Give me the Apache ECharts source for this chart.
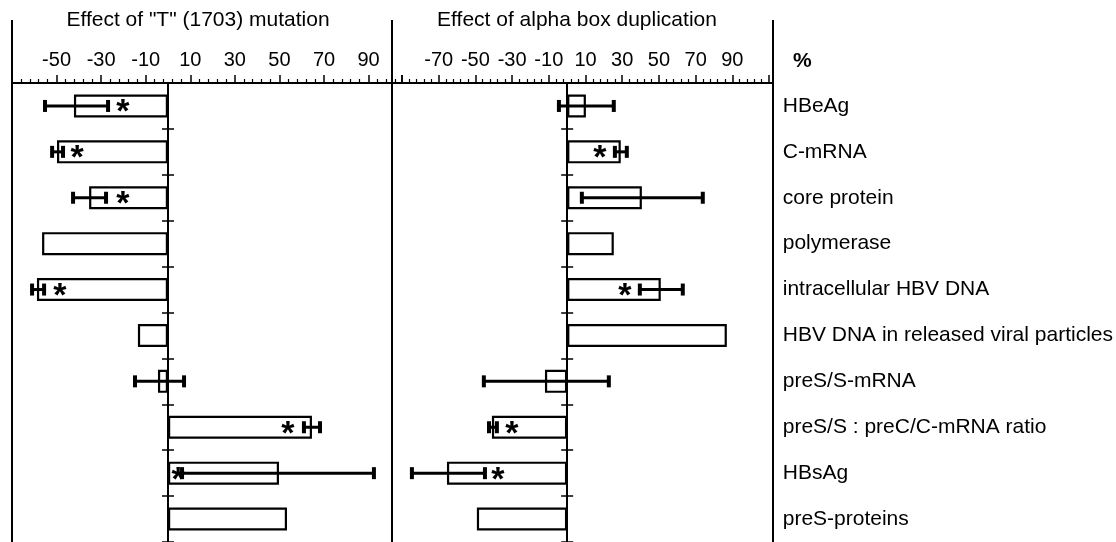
<!DOCTYPE html>
<html>
<head>
<meta charset="utf-8">
<script src="https://cdn.jsdelivr.net/npm/echarts@6/dist/echarts.min.js"></script>
<style>
html, body { margin: 0; padding: 0; background: #fff; }
#chart { width: 1116px; height: 542px; }
</style>
</head>
<body>
<div id="chart"></div>
<script>
const categories = [
  'HBeAg',
  'C-mRNA',
  'core protein',
  'polymerase',
  'intracellular HBV DNA',
  'HBV DNA in released viral particles',
  'preS/S-mRNA',
  'preS/S : preC/C-mRNA ratio',
  'HBsAg',
  'preS-proteins'
]

// Effect of "T" (1703) mutation, %
const mutationValues = [-42.2, -49.8, -35.4, -56.5, -58.8, -13.5, -4.5, 64.6, 49.8, 53.4]
const mutationErrLow = [-55.2, -52, -42.6, null, -61, null, -14.8, 61, 6.3, null]
const mutationErrHigh = [-26.9, -47.1, -27.8, null, -55.6, null, 7.2, 68.2, 92.4, null]
const mutationStars = [-20.2, -40.8, -20.2, null, -48.5, null, null, 53.8, 4.5, null]

// Effect of alpha box duplication, %
const duplicationValues = [10.2, 29.2, 40.7, 25.4, 51, 87, -12.1, -41, -65.5, -49.2]
const duplicationErrLow = [-4.5, 26, 8, null, 39.6, null, -45.4, -42.6, -84.6, null]
const duplicationErrHigh = [25.4, 32.5, 73.9, null, 63, null, 22.7, -38.3, -44.8, null]
const duplicationStars = [null, 17.8, null, null, 31.4, null, null, -30.1, -37.7, null]

const leftTickLabels = [-50, -30, -10, 10, 30, 50, 70, 90]
const rightTickLabels = [-70, -50, -30, -10, 10, 30, 50, 70, 90]

const FONT = '"Liberation Sans", Arial, Helvetica, sans-serif'

function errData(lo, hi) {
  const out = []
  lo.forEach((v, i) => {
    if (v !== null) out.push([i, v, hi[i]])
  })
  return out
}

function starData(stars) {
  const out = []
  stars.forEach((v, i) => {
    if (v !== null) out.push([i, v])
  })
  return out
}

function renderError(params, api) {
  const cat = api.value(0)
  const lo = api.coord([api.value(1), cat])
  const hi = api.coord([api.value(2), cat])
  const h = 6
  const bar = { stroke: '#000', lineWidth: 3 }
  const cap = { stroke: '#000', lineWidth: 4 }
  return {
    type: 'group',
    children: [
      { type: 'line', shape: { x1: lo[0], y1: lo[1], x2: hi[0], y2: hi[1] }, style: bar },
      { type: 'line', shape: { x1: lo[0], y1: lo[1] - h, x2: lo[0], y2: lo[1] + h }, style: cap },
      { type: 'line', shape: { x1: hi[0], y1: hi[1] - h, x2: hi[0], y2: hi[1] + h }, style: cap }
    ]
  }
}

function renderStar(params, api) {
  const p = api.coord([api.value(1), api.value(0)])
  return {
    type: 'text',
    x: p[0],
    y: p[1] + 7,
    style: {
      text: '*',
      fill: '#000',
      font: 'bold 34px ' + FONT,
      align: 'center',
      verticalAlign: 'middle'
    }
  }
}

function valueAxis(gridIndex, min, max, labels) {
  return {
    type: 'value',
    gridIndex: gridIndex,
    position: 'top',
    min: min,
    max: max,
    interval: 20,
    splitLine: { show: false },
    axisLine: { show: true, onZero: false, lineStyle: { color: '#000', width: 2 } },
    axisTick: { show: true, length: 8, lineStyle: { color: '#000', width: 1.5 } },
    minorTick: { show: true, splitNumber: 5, length: 4, lineStyle: { color: '#000', width: 1.2 } },
    axisLabel: {
      color: '#000',
      fontSize: 20,
      fontFamily: FONT,
      margin: 13,
      formatter: v => (labels.includes(v) ? String(v) : '')
    }
  }
}

function zeroAxis(gridIndex, xIndex, side) {
  return {
    type: 'category',
    gridIndex: gridIndex,
    data: categories,
    inverse: true,
    position: side,
    axisLine: { show: true, onZero: true, onZeroAxisIndex: xIndex, lineStyle: { color: '#000', width: 2 } },
    axisTick: { show: true, length: 6, lineStyle: { color: '#000', width: 1.5 } },
    axisLabel: { show: false },
    splitLine: { show: false }
  }
}

const chart = echarts.init(document.getElementById('chart'))
chart.setOption({
  animation: false,
  backgroundColor: '#fff',
  grid: [
    { left: 12, top: 83, width: 390, height: 462 },
    { left: 402, top: 83, width: 371, height: 462 }
  ],
  xAxis: [
    valueAxis(0, -70, 105, leftTickLabels),
    valueAxis(1, -90, 112, rightTickLabels)
  ],
  yAxis: [
    zeroAxis(0, 0, 'left'),
    zeroAxis(0, 0, 'right'),
    zeroAxis(1, 1, 'left'),
    zeroAxis(1, 1, 'right'),
    {
      type: 'category',
      gridIndex: 1,
      data: categories,
      inverse: true,
      position: 'right',
      axisLine: { show: false, onZero: false },
      axisTick: { show: false },
      axisLabel: { color: '#000', fontSize: 21, fontFamily: FONT, margin: 10 }
    }
  ],
  series: [
    {
      type: 'bar',
      xAxisIndex: 0,
      yAxisIndex: 0,
      barWidth: 23,
      data: mutationValues,
      itemStyle: { color: '#fff', borderColor: '#000', borderWidth: 2.2 }
    },
    {
      type: 'bar',
      xAxisIndex: 1,
      yAxisIndex: 2,
      barWidth: 23,
      data: duplicationValues,
      itemStyle: { color: '#fff', borderColor: '#000', borderWidth: 2.2 }
    },
    {
      type: 'custom',
      xAxisIndex: 0,
      yAxisIndex: 0,
      renderItem: renderError,
      encode: { x: [1, 2], y: 0 },
      data: errData(mutationErrLow, mutationErrHigh),
      z: 5
    },
    {
      type: 'custom',
      xAxisIndex: 1,
      yAxisIndex: 2,
      renderItem: renderError,
      encode: { x: [1, 2], y: 0 },
      data: errData(duplicationErrLow, duplicationErrHigh),
      z: 5
    },
    {
      type: 'custom',
      xAxisIndex: 0,
      yAxisIndex: 0,
      renderItem: renderStar,
      encode: { x: 1, y: 0 },
      data: starData(mutationStars),
      z: 6
    },
    {
      type: 'custom',
      xAxisIndex: 1,
      yAxisIndex: 2,
      renderItem: renderStar,
      encode: { x: 1, y: 0 },
      data: starData(duplicationStars),
      z: 6
    }
  ],
  graphic: [
    { type: 'line', shape: { x1: 12, y1: 20, x2: 12, y2: 542 }, style: { stroke: '#000', lineWidth: 2 } },
    { type: 'line', shape: { x1: 392, y1: 20, x2: 392, y2: 542 }, style: { stroke: '#000', lineWidth: 2 } },
    { type: 'line', shape: { x1: 773, y1: 20, x2: 773, y2: 542 }, style: { stroke: '#000', lineWidth: 2 } },
    {
      type: 'text', x: 198, y: 20,
      style: { text: 'Effect of "T" (1703) mutation', font: '21px ' + FONT, fill: '#000', align: 'center', verticalAlign: 'middle' }
    },
    {
      type: 'text', x: 577, y: 20,
      style: { text: 'Effect of alpha box duplication', font: '21px ' + FONT, fill: '#000', align: 'center', verticalAlign: 'middle' }
    },
    {
      type: 'text', x: 793, y: 61,
      style: { text: '%', font: 'bold 21px ' + FONT, fill: '#000', align: 'left', verticalAlign: 'middle' }
    }
  ]
})
</script>
</body>
</html>
